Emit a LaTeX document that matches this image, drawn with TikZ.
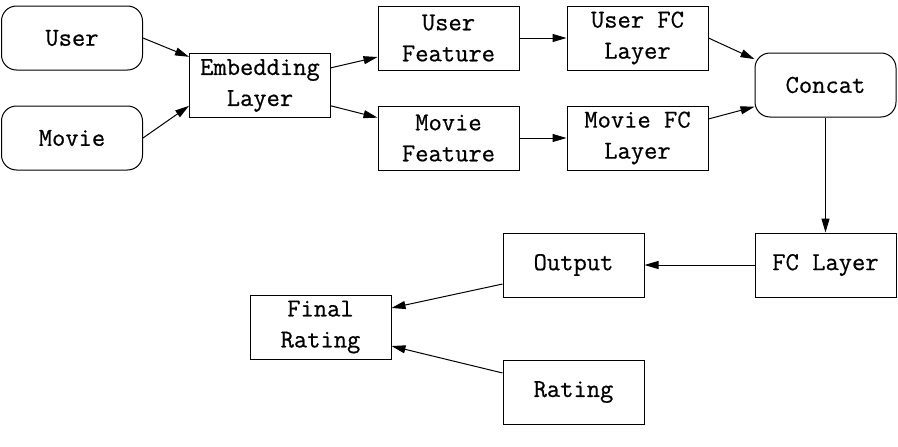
\documentclass[tikz,border=0pt]{standalone}
\usepackage{fontspec}
\newfontfamily\diagfont{Latin Modern Mono}[FakeBold=0.6]
\usepackage{tikz}
\usetikzlibrary{arrows.meta,positioning}

\begin{document}
\begin{tikzpicture}[
		x=1pt, y=-1pt,
		block/.style={rectangle, draw, line width=1pt, minimum width=141pt, minimum height=64pt,
			inner sep=0pt, align=center, font=\fontsize{25.8}{31}\selectfont\diagfont},
		rblock/.style={block, rounded corners=15pt},
		every path/.style={line width=1pt},
		->,>={Triangle[length=14pt,width=8pt]}
		]
	\useasboundingbox (0,0) rectangle (898,447);

		\node[rblock] (user) at (72, 38) {User};
		\node[rblock] (movie) at (72, 138) {Movie};
		\node[block] (emb) at (260, 85.5) {Embedding\\Layer};
		\node[block] (ufeat) at (448.5, 38) {User\\Feature};
		\node[block] (ufc) at (637.5, 38) {User FC\\Layer};
		\node[block] (mfeat) at (448.5, 138) {Movie\\Feature};
		\node[block] (mfc) at (637.5, 138) {Movie FC\\Layer};
		\node[rblock] (concat) at (825.5, 85) {Concat};
		\node[block] (fc) at (825.5, 265) {FC Layer};
		\node[block] (out) at (573.5, 265) {Output};
		\node[block] (final) at (320.5, 327) {Final\\Rating};
		\node[block] (rating) at (573.5, 392) {Rating};

		\draw (user.east) -- (emb.158);
		\draw (movie.east) -- (emb.196);
		\draw (emb.14) -- (ufeat.195);
		\draw (emb.344) -- (mfeat.164);
		\draw (ufeat) -- (ufc);
		\draw (mfeat) -- (mfc);
		\draw (ufc.east) -- (concat.160);
		\draw (mfc.15) -- (concat.197);
		\draw (concat) -- (fc);
		\draw (fc) -- (out);
		\draw (out.195) -- (final.15);
		\draw (rating.165) -- (final.345);

	\end{tikzpicture}
\end{document}
